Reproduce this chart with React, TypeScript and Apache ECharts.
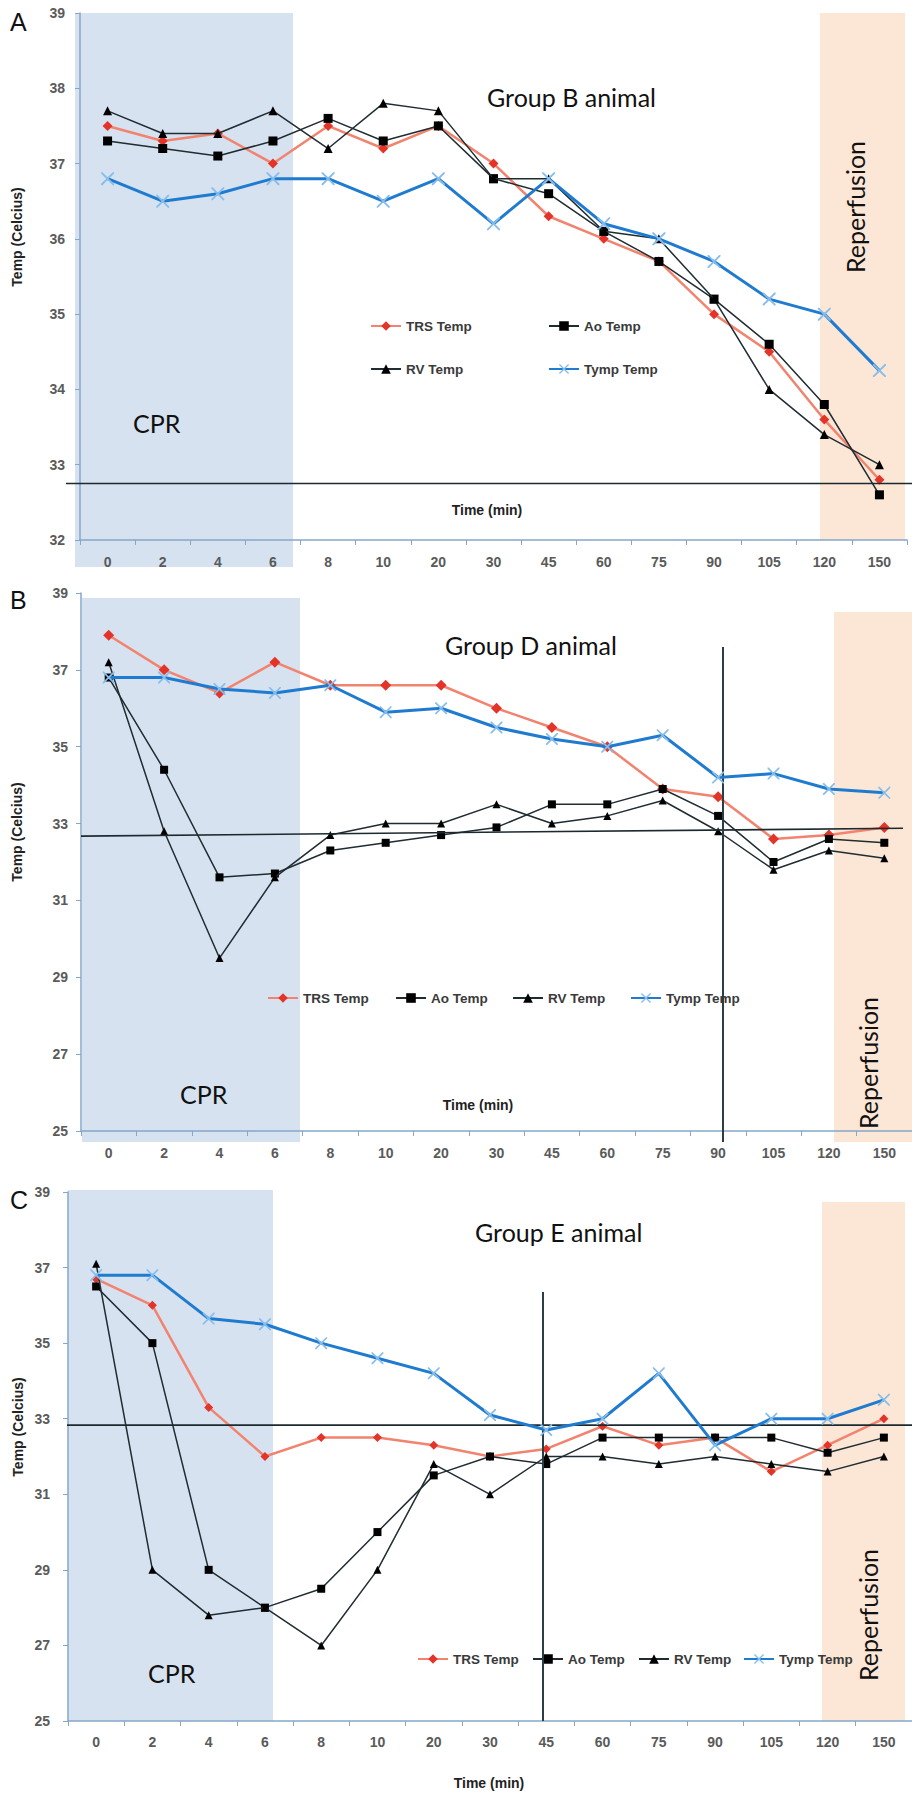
import React, { useEffect, useRef } from 'react';
import * as echarts from 'echarts';

// ---------- DATA ----------
const categories = ['0', '2', '4', '6', '8', '10', '20', '30', '45', '60', '75', '90', '105', '120', '150'];
const seriesNames = ['TRS Temp', 'Ao Temp', 'RV Temp', 'Tymp Temp'];

// Panel A – Group B animal
const trsA = [37.5, 37.3, 37.4, 37.0, 37.5, 37.2, 37.5, 37.0, 36.3, 36.0, 35.7, 35.0, 34.5, 33.6, 32.8];
const aoA = [37.3, 37.2, 37.1, 37.3, 37.6, 37.3, 37.5, 36.8, 36.6, 36.1, 35.7, 35.2, 34.6, 33.8, 32.6];
const rvA = [37.7, 37.4, 37.4, 37.7, 37.2, 37.8, 37.7, 36.8, 36.8, 36.1, 36.0, 35.2, 34.0, 33.4, 33.0];
const tympA = [36.8, 36.5, 36.6, 36.8, 36.8, 36.5, 36.8, 36.2, 36.8, 36.2, 36.0, 35.7, 35.2, 35.0, 34.25];

// Panel B – Group D animal
const trsB = [37.9, 37.0, 36.4, 37.2, 36.6, 36.6, 36.6, 36.0, 35.5, 35.0, 33.9, 33.7, 32.6, 32.7, 32.9];
const aoB = [36.8, 34.4, 31.6, 31.7, 32.3, 32.5, 32.7, 32.9, 33.5, 33.5, 33.9, 33.2, 32.0, 32.6, 32.5];
const rvB = [37.2, 32.8, 29.5, 31.6, 32.7, 33.0, 33.0, 33.5, 33.0, 33.2, 33.6, 32.8, 31.8, 32.3, 32.1];
const tympB = [36.8, 36.8, 36.5, 36.4, 36.6, 35.9, 36.0, 35.5, 35.2, 35.0, 35.3, 34.2, 34.3, 33.9, 33.8];

// Panel C – Group E animal
const trsC = [36.7, 36.0, 33.3, 32.0, 32.5, 32.5, 32.3, 32.0, 32.2, 32.8, 32.3, 32.5, 31.6, 32.3, 33.0];
const aoC = [36.5, 35.0, 29.0, 28.0, 28.5, 30.0, 31.5, 32.0, 31.8, 32.5, 32.5, 32.5, 32.5, 32.1, 32.5];
const rvC = [37.1, 29.0, 27.8, 28.0, 27.0, 29.0, 31.8, 31.0, 32.0, 32.0, 31.8, 32.0, 31.8, 31.6, 32.0];
const tympC = [36.8, 36.8, 35.65, 35.5, 35.0, 34.6, 34.2, 33.1, 32.7, 33.0, 34.2, 32.3, 33.0, 33.0, 33.5];

// Reference (target) temperature lines
const targetA = [32.75, 32.75];
const targetB = [32.8, 33.0];
const targetC = [32.83, 32.83];

// ---------- STYLE / LAYOUT ----------
const AXIS_COLOR = '#86a7c9';
const TICK_FONT = 'Liberation Sans';
const TITLE_FONT = 'Lato';
const X_SYMBOL =
  'path://M0,0L2,0L10,8L18,0L20,0L20,2L12,10L20,18L20,20L18,20L10,12L2,20L0,20L0,18L8,10L0,2Z';

type Panel = {
  letter: string;
  group: string;
  height: number;
  top: number;
  grid: { left: number; top: number; width: number; height: number };
  yMin: number;
  yMax: number;
  yInterval: number;
  data: number[][];
  target: number[];
  targetX: [number, number];
  xLabelMargin: number;
  yLabelMargin: number;
  legendPos: [number, number][];
  cpr: [number, number, number, number];
  reperf: [number, number, number, number];
  vline?: [number, number, number];
  letterPos: [number, number];
  groupPos: [number, number];
  cprPos: [number, number];
  reperfPos: [number, number];
  yNamePos: [number, number];
  xNamePos: [number, number];
  sizes: number[];
};

const panels: Panel[] = [
  {
    letter: 'A', group: 'Group B animal', top: 0, height: 580,
    grid: { left: 80, top: 13, width: 827, height: 527 },
    yMin: 32, yMax: 39, yInterval: 1,
    data: [trsA, aoA, rvA, tympA], target: targetA, targetX: [66, 912],
    xLabelMargin: 15, yLabelMargin: 15,
    legendPos: [[370, 325], [548, 325], [370, 368], [548, 368]],
    cpr: [75, 13, 218, 554], reperf: [820, 13, 85, 527],
    letterPos: [10, 22], groupPos: [487, 97], cprPos: [133, 423], reperfPos: [855, 207],
    yNamePos: [17, 237], xNamePos: [487, 510], sizes: [10, 9, 9, 13],
  },
  {
    letter: 'B', group: 'Group D animal', top: 580, height: 580,
    grid: { left: 81, top: 13, width: 831, height: 549 },
    yMin: 25, yMax: 39, yInterval: 2,
    data: [trsB, aoB, rvB, tympB], target: targetB, targetX: [81, 903],
    xLabelMargin: 15, yLabelMargin: 13,
    legendPos: [[267, 417], [395, 417], [512, 417], [630, 417]],
    cpr: [82, 18, 218, 544], reperf: [834, 32, 78, 530], vline: [723, 67, 562],
    letterPos: [10, 20], groupPos: [445, 65], cprPos: [180, 514], reperfPos: [868, 483],
    yNamePos: [17, 252], xNamePos: [478, 525], sizes: [11, 8, 8, 12],
  },
  {
    letter: 'C', group: 'Group E animal', top: 1160, height: 634,
    grid: { left: 68, top: 32, width: 844, height: 529 },
    yMin: 25, yMax: 39, yInterval: 2,
    data: [trsC, aoC, rvC, tympC], target: targetC, targetX: [67, 912],
    xLabelMargin: 14, yLabelMargin: 18,
    legendPos: [[417, 498], [532, 498], [638, 498], [743, 498]],
    cpr: [68, 30, 205, 531], reperf: [822, 42, 83, 519], vline: [543, 132, 561],
    letterPos: [10, 40], groupPos: [475, 72], cprPos: [148, 513], reperfPos: [868, 455],
    yNamePos: [18, 267], xNamePos: [489, 623], sizes: [9, 8, 8, 12],
  },
];

const seriesStyles = [
  { symbol: 'diamond', line: '#f2836f', width: 2.5, marker: '#e3342a' },
  { symbol: 'rect', line: '#1f2c31', width: 1.5, marker: '#000000' },
  { symbol: 'triangle', line: '#1f2c31', width: 1.5, marker: '#000000' },
  { symbol: X_SYMBOL, line: '#1f7bcf', width: 3, marker: '#86bdeb' },
];

function textEl(text: string, x: number, y: number, opts: any = {}) {
  const align = opts.align || 'left';
  return {
    type: 'text',
    x, y,
    rotation: opts.rotation || 0,
    z: 20,
    style: {
      text,
      fill: opts.color || '#1a1a1a',
      fontSize: opts.fontSize || 14,
      fontFamily: opts.fontFamily || TICK_FONT,
      fontWeight: opts.fontWeight || 'normal',
      align, textAlign: align,
      verticalAlign: 'middle', textVerticalAlign: 'middle',
    },
  };
}

function buildOption(p: Panel) {
  const g = p.grid;
  const yPix = (v: number) => g.top + ((p.yMax - v) / (p.yMax - p.yMin)) * g.height;

  const graphic: any[] = [
    { type: 'rect', z: -10, shape: { x: p.cpr[0], y: p.cpr[1], width: p.cpr[2], height: p.cpr[3] }, style: { fill: '#d6e2ef' } },
    { type: 'rect', z: -10, shape: { x: p.reperf[0], y: p.reperf[1], width: p.reperf[2], height: p.reperf[3] }, style: { fill: '#fce6d6' } },
    {
      type: 'line', z: 5,
      shape: { x1: p.targetX[0], y1: yPix(p.target[0]), x2: p.targetX[1], y2: yPix(p.target[1]) },
      style: { stroke: '#1c2a30', lineWidth: 1.6 },
    },
    textEl(p.letter, p.letterPos[0], p.letterPos[1], { fontSize: 25, color: '#111' }),
    textEl(p.group, p.groupPos[0], p.groupPos[1], { fontSize: 25, fontFamily: TITLE_FONT, color: '#111' }),
    textEl('CPR', p.cprPos[0], p.cprPos[1], { fontSize: 25, fontFamily: TITLE_FONT, color: '#111' }),
    textEl('Reperfusion', p.reperfPos[0], p.reperfPos[1], { fontSize: 25, fontFamily: TITLE_FONT, color: '#111', align: 'center', rotation: Math.PI / 2 }),
    textEl('Temp (Celcius)', p.yNamePos[0], p.yNamePos[1], { fontSize: 14, fontWeight: 'bold', color: '#222', align: 'center', rotation: Math.PI / 2 }),
    textEl('Time (min)', p.xNamePos[0], p.xNamePos[1], { fontSize: 14, fontWeight: 'bold', color: '#222', align: 'center' }),
  ];
  if (p.vline) {
    graphic.push({
      type: 'line', z: 5,
      shape: { x1: p.vline[0], y1: p.vline[1], x2: p.vline[0], y2: p.vline[2] },
      style: { stroke: '#2a3e48', lineWidth: 2 },
    });
  }

  const series = seriesNames.map((name, i) => {
    const s = seriesStyles[i];
    return {
      type: 'line',
      name,
      data: p.data[i],
      symbol: s.symbol,
      symbolSize: p.sizes[i],
      showSymbol: true,
      lineStyle: { color: s.line, width: s.width },
      itemStyle: { color: s.marker },
      z: 2 + i,
    };
  });

  const legend = seriesNames.map((name, i) => ({
    data: [name],
    left: p.legendPos[i][0],
    top: p.legendPos[i][1] - 6,
    padding: 0,
    itemWidth: 30,
    itemHeight: 12,
    selectedMode: false,
    textStyle: { fontFamily: TICK_FONT, fontWeight: 'bold', fontSize: 13.5, color: '#3a3a3a' },
  }));

  return {
    animation: false,
    backgroundColor: 'transparent',
    grid: { left: g.left, top: g.top, width: g.width, height: g.height, containLabel: false },
    xAxis: {
      type: 'category',
      data: categories,
      boundaryGap: true,
      axisLine: { lineStyle: { color: AXIS_COLOR, width: 1.5 } },
      axisTick: { show: true, length: 5, alignWithLabel: false, lineStyle: { color: AXIS_COLOR } },
      axisLabel: { margin: p.xLabelMargin, fontSize: 14, fontWeight: 'bold', fontFamily: TICK_FONT, color: '#5a5a5a' },
      splitLine: { show: false },
    },
    yAxis: {
      type: 'value',
      min: p.yMin,
      max: p.yMax,
      interval: p.yInterval,
      axisLine: { show: true, lineStyle: { color: AXIS_COLOR, width: 1.5 } },
      axisTick: { show: true, length: 5, lineStyle: { color: AXIS_COLOR } },
      axisLabel: { margin: p.yLabelMargin, fontSize: 14, fontWeight: 'bold', fontFamily: TICK_FONT, color: '#5a5a5a' },
      splitLine: { show: false },
    },
    legend,
    series,
    graphic,
  };
}

function PanelChart({ panel }: { panel: Panel }) {
  const ref = useRef<HTMLDivElement>(null);
  useEffect(() => {
    if (!ref.current) return;
    const chart = echarts.init(ref.current, undefined, { renderer: 'svg' });
    chart.setOption(buildOption(panel) as any);
    return () => chart.dispose();
  }, [panel]);
  return (
    <div
      ref={ref}
      style={{ position: 'absolute', left: 0, top: panel.top, width: 912, height: panel.height }}
    />
  );
}

export default function App() {
  return (
    <div style={{ position: 'absolute', left: 0, top: 0, width: 912, height: 1794, background: '#fff' }}>
      {panels.map((p) => (
        <PanelChart key={p.letter} panel={p} />
      ))}
    </div>
  );
}
